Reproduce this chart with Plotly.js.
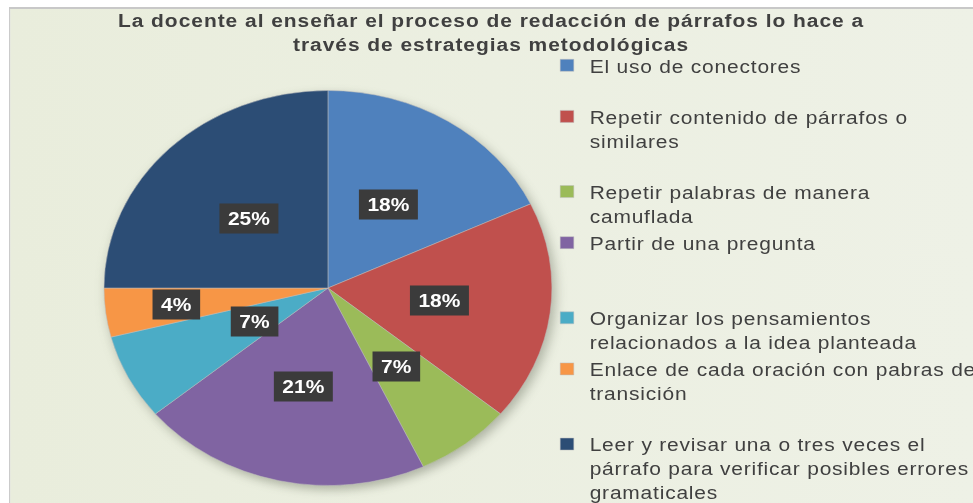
<!DOCTYPE html>
<html>
<head>
<meta charset="utf-8">
<script src="https://cdn.plot.ly/plotly-3.0.1.min.js"></script>
<style>
html, body { margin:0; padding:0; background:#ffffff; width:973px; height:503px; overflow:hidden; }
#wrap { position:absolute; left:0; top:0; width:858px; height:503px; transform:scaleX(1.134); transform-origin:0 0; }
#bg { position:absolute; left:7.9px; top:7px; right:0; bottom:0;
      background:linear-gradient(to right, #E9EDDC, #EEF1E6);
      border-left:1.8px solid #c8c8c8; border-top:2px solid #c8c8c8; }
#chart { position:absolute; left:0; top:0; width:858px; height:503px; }
#chart .pielayer { filter: drop-shadow(3px 4px 5px rgba(60,70,50,0.35)); }
.legendtext { letter-spacing: 0.7px; }
.gtitle { letter-spacing: 0.85px; }
</style>
</head>
<body>
<div id="wrap"><div id="bg"></div><div id="chart"></div></div>
<script>
// ---- data ----
const titleText = "La docente al enseñar el proceso de redacción de párrafos lo hace a<br>través de estrategias metodológicas";
const categories = [
  "El uso de conectores",
  "Repetir contenido de párrafos o<br>similares",
  "Repetir palabras de manera<br>camuflada",
  "Partir de una pregunta",
  "Organizar los pensamientos<br>relacionados a la idea planteada",
  "Enlace de cada oración con pabras de<br>transición",
  "Leer y revisar una o tres veces el<br>párrafo para verificar posibles errores<br>gramaticales"
];
const values = [18, 18, 7, 21, 7, 4, 25];

// ---- styles ----
const colors = ["#4F81BD", "#C0504D", "#9BBB59", "#8064A2", "#4BACC6", "#F79646", "#2C4D75"];
const W = 858, H = 503;
const PIE = { cx: 289.2, cy: 288, r: 197.5 };           // px, top-left origin
const labelRadius = [0.5, 0.5, 0.5, 0.51, 0.37, 0.68, 0.5]; // fraction of radius
const legendPad = [1, 1, 0, 2, 0, 1, 0];                   // blank lines for spacing
const FONT = "Liberation Sans, Arial, sans-serif";
const LABEL_FS = 18.5;

const total = values.reduce((a, b) => a + b, 0);
const legendLabels = categories.map((c, i) => c + "<br> ".repeat(legendPad[i]));

const trace = {
  type: "pie",
  labels: legendLabels,
  values: values,
  sort: false,
  direction: "clockwise",
  rotation: 0,
  marker: { colors: colors, line: { color: "rgba(190,190,190,0.6)", width: 0.8 } },
  textposition: "none",
  hoverinfo: "skip",
  domain: {
    x: [(PIE.cx - PIE.r) / W, (PIE.cx + PIE.r) / W],
    y: [(H - PIE.cy - PIE.r) / H, (H - PIE.cy + PIE.r) / H]
  }
};

// data labels: boxed percentages at the middle angle of each slice
const annotations = [];
let cum = 0;
values.forEach((v, i) => {
  const mid = (cum + v / 2) / total * 2 * Math.PI;
  cum += v;
  const f = labelRadius[i];
  const px = PIE.cx + f * PIE.r * Math.sin(mid);
  const py = PIE.cy - f * PIE.r * Math.cos(mid);
  const pct = Math.round(v / total * 100);
  const txt = pct + "%";
  const tw = (String(pct).length * 0.556 + 0.889) * LABEL_FS;
  annotations.push({
    xref: "paper", yref: "paper",
    x: px / W, y: 1 - py / H,
    xanchor: "center", yanchor: "middle",
    text: "<b>" + txt + "</b>",
    showarrow: false,
    font: { family: FONT, size: LABEL_FS, color: "#ffffff" },
    bgcolor: "#3b3b3b",
    borderpad: 0,
    width: tw + 14,
    height: 29
  });
});

const layout = {
  width: W, height: H,
  margin: { l: 0, r: 0, t: 0, b: 0, autoexpand: false },
  paper_bgcolor: "rgba(0,0,0,0)",
  plot_bgcolor: "rgba(0,0,0,0)",
  font: { family: FONT, color: "#404040" },
  title: {
    text: "<b>" + titleText + "</b>",
    font: { family: FONT, size: 18.5, color: "#404040" },
    x: 433 / W, xanchor: "center", xref: "paper",
    y: 1 - 27 / H, yanchor: "top", yref: "container"
  },
  showlegend: true,
  legend: {
    x: 480 / W, xanchor: "left",
    y: 0.907, yanchor: "top",
    valign: "top",
    bgcolor: "rgba(0,0,0,0)",
    font: { family: FONT, size: 18.5, color: "#404040" },
    maxheight: 2000
  },
  annotations: annotations
};

Plotly.newPlot("chart", [trace], layout, { staticPlot: true, displayModeBar: false });
</script>
</body>
</html>
